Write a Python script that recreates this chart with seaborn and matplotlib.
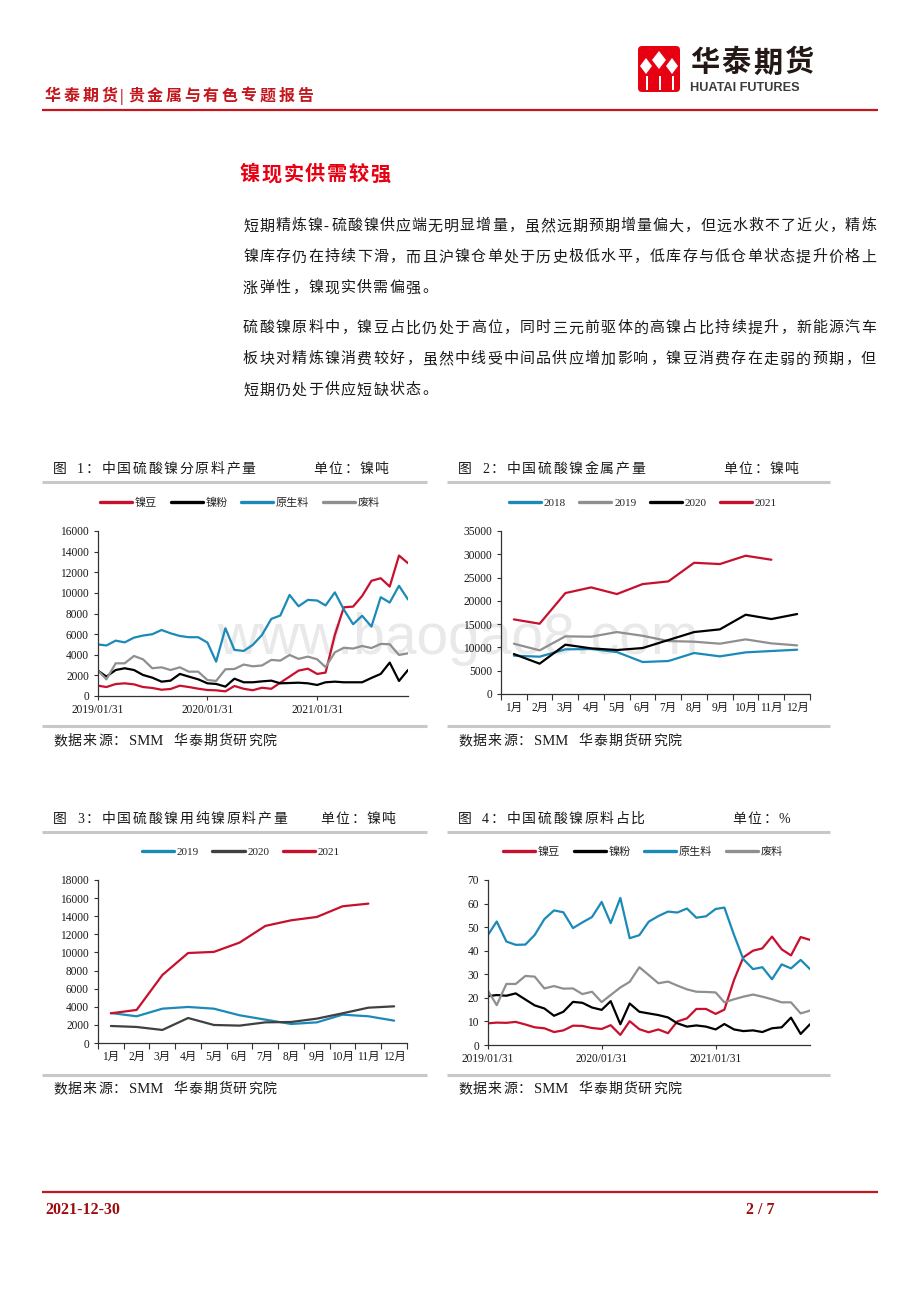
import matplotlib
matplotlib.use("Agg")
import matplotlib.pyplot as plt
from matplotlib.lines import Line2D
from matplotlib.patches import FancyBboxPatch, Polygon, Rectangle
import numpy as np
import pandas as pd
import seaborn as sns

sns.set_theme(style="white")
plt.rcParams["font.family"] = ["Liberation Serif", "Noto Sans CJK SC"]
plt.rcParams["axes.unicode_minus"] = False

# ---------------------------------------------------------------- data
dates = pd.date_range("2019-01-31", periods=35, freq=pd.offsets.MonthEnd())
date_ticks = pd.to_datetime(["2019-01-31", "2020-01-31", "2021-01-31"])
date_tick_labels = ["2019/01/31", "2020/01/31", "2021/01/31"]
months = ["1月", "2月", "3月", "4月", "5月", "6月", "7月", "8月", "9月", "10月", "11月", "12月"]
raw_names = ["镍豆", "镍粉", "原生料", "废料"]

# fig 1: output by raw material (t Ni)
nb_t = [1000, 870, 1160, 1230, 1130, 870, 780, 610, 680, 1000, 870, 710, 580, 550, 450, 970, 700,
        560, 800, 700, 1290, 1880, 2460, 2650, 2140, 2270, 5920, 8600, 8670, 9700, 11170, 11420,
        10610, 13620, 12880]
np_t = [2460, 1880, 2520, 2690, 2520, 2040, 1780, 1390, 1490, 2140, 1880, 1620, 1230, 1170, 910,
        1680, 1330, 1330, 1420, 1490, 1230, 1260, 1290, 1230, 1070, 1330, 1390, 1330, 1330, 1330,
        1750, 2140, 3240, 1460, 2520]
raw_t = [5000, 4900, 5370, 5200, 5660, 5860, 5990, 6400, 6080, 5820, 5700, 5700, 5180, 3330, 6570,
         4470, 4370, 4950, 5920, 7480, 7800, 9800, 8700, 9320, 9260, 8780, 10050, 8380, 6960, 7780,
         6730, 9580, 9060, 10690, 9360]
scrap_t = [2460, 1620, 3170, 3170, 3880, 3560, 2690, 2780, 2520, 2780, 2360, 2360, 1550, 1460, 2590,
           2620, 3050, 2880, 2960, 3500, 3430, 3980, 3600, 3820, 3560, 2800, 4230, 4680, 4600, 4850,
           4650, 5050, 5020, 3980, 4140]

# fig 2: nickel sulphate metal output by year
y2018 = [8230, 8010, 9590, 9660, 9010, 6870, 7080, 8800, 8080, 8940, 9230, 9510]
y2019 = [10800, 9370, 12380, 12300, 13300, 12500, 11370, 11230, 10800, 11730, 10870, 10440]
y2020 = [8580, 6510, 10590, 9800, 9440, 9870, 11590, 13300, 13880, 17020, 16090, 17170]
y2021 = [16020, 15090, 21670, 22890, 21460, 23600, 24180, 28180, 27900, 29690, 28830]

# fig 3: pure nickel feed
p2019 = [3310, 2950, 3790, 3980, 3790, 3060, 2580, 2100, 2280, 3130, 2950, 2470]
p2020 = [1880, 1770, 1440, 2760, 1990, 1920, 2280, 2320, 2690, 3280, 3900, 4050]
p2021 = [3280, 3650, 7510, 9940, 10060, 11090, 12930, 13550, 13920, 15100, 15390]

# fig 4: share (%)
nb_pct = [9.2, 9.5, 9.4, 9.8, 8.7, 7.5, 7.1, 5.5, 6.2, 8.2, 8.1, 7.2, 6.8, 8.4, 4.3, 10.1, 6.7, 5.4,
          6.6, 5.0, 10.0, 11.3, 15.3, 15.3, 13.2, 15.0, 27.6, 37.2, 40.0, 41.0, 46.0, 40.6, 38.0,
          45.8, 44.6]
np_pct = [20.7, 21.2, 20.9, 21.9, 19.3, 16.8, 15.5, 12.4, 14.1, 18.3, 17.9, 15.9, 14.9, 18.6, 8.8,
          17.6, 14.1, 13.4, 12.7, 11.7, 9.2, 7.8, 8.3, 7.8, 6.6, 8.9, 6.6, 5.9, 6.2, 5.5, 7.1, 7.5,
          11.6, 4.7, 8.8]
raw_pct = [46.7, 52.4, 43.9, 42.5, 42.6, 46.7, 53.4, 57.1, 56.3, 49.6, 52.0, 54.3, 60.7, 51.7, 62.4,
           45.3, 46.6, 52.3, 54.7, 56.6, 56.2, 57.9, 54.0, 54.6, 57.7, 58.3, 46.7, 36.4, 32.2, 33.0,
           27.9, 34.2, 32.5, 36.1, 32.2]
scrap_pct = [23.0, 16.9, 25.9, 25.9, 29.3, 29.0, 24.0, 25.0, 23.9, 24.0, 21.6, 22.6, 18.2, 21.2,
             24.4, 26.8, 33.0, 29.7, 26.2, 26.9, 25.2, 23.6, 22.6, 22.5, 22.3, 18.1, 19.4, 20.5,
             21.4, 20.5, 19.4, 18.1, 18.1, 13.4, 14.6]

para1 = ["短期精炼镍-硫酸镍供应端无明显增量，虽然远期预期增量偏大，但远水救不了近火，精炼",
         "镍库存仍在持续下滑，而且沪镍仓单处于历史极低水平，低库存与低仓单状态提升价格上",
         "涨弹性，镍现实供需偏强。"]
para2 = ["硫酸镍原料中，镍豆占比仍处于高位，同时三元前驱体的高镍占比持续提升，新能源汽车",
         "板块对精炼镍消费较好，虽然中线受中间品供应增加影响，镍豆消费存在走弱的预期，但",
         "短期仍处于供应短缺状态。"]

RED = "#C8102E"
BLUE = "#1B8AB8"
GRAY = "#8F8F8F"
BLACK = "#000000"

W, H = 920, 1302
fig = plt.figure(figsize=(W / 100, H / 100), dpi=100)


def fx(x):
    return x / W


def fy(y):
    return 1 - y / H


def hline(y, x0, x1, color, lw):
    fig.add_artist(Line2D([fx(x0), fx(x1)], [fy(y), fy(y)], transform=fig.transFigure,
                          color=color, lw=lw, solid_capstyle="butt"))


def spaced(x, y, s, pitch, size, color="#1a1a1a", weight="normal", half=0.5):
    # y is the visual middle of the glyphs, pixels
    base = y + 0.36 * size * 100 / 72
    for ch in s:
        if ch != " ":
            fig.text(fx(x), fy(base), ch, fontsize=size, color=color, weight=weight,
                     ha="left", va="baseline")
        x += pitch * (1.0 if ord(ch) > 0x2000 else half)


def justified(x0, x1, y, s, size, **kw):
    em = size * 100 / 72
    units = sum(1.0 if ord(c) > 0x2000 else 0.5 for c in s[:-1])
    spaced(x0, y, s, (x1 - x0 - em) / units, size, **kw)


def add_ax(l, t, r, b):
    ax = fig.add_axes([fx(l), fy(b), (r - l) / W, (b - t) / H])
    ax.set_facecolor("none")
    return ax


def style(ax, ymax, ystep):
    sns.despine(ax=ax)
    for s in ("left", "bottom"):
        ax.spines[s].set_color("#333333")
        ax.spines[s].set_linewidth(0.9)
    ax.set_ylim(0, ymax)
    ax.set_yticks(np.arange(0, ymax + 1, ystep))
    ax.tick_params(axis="y", left=True, length=3, width=0.8, color="#333333",
                   labelsize=8.3, pad=3.5, labelcolor="#1a1a1a")
    ax.tick_params(axis="x", bottom=True, length=3, width=0.8, color="#333333",
                   labelsize=8.3, pad=3, labelcolor="#1a1a1a")
    ax.set_xlabel("")
    ax.set_ylabel("")
    ax.grid(False)


def draw_lines(ax, df, order, colors, lw=1.6):
    long = df.melt(id_vars="x", var_name="series", value_name="value").dropna()
    sns.lineplot(data=long, x="x", y="value", hue="series", hue_order=order,
                 palette=dict(zip(order, colors)), linewidth=lw, ax=ax, errorbar=None,
                 sort=False)


def legend(ax, cx, cy):
    handles, labels = ax.get_legend_handles_labels()
    for h in handles:
        h.set_linewidth(2.4)
    ax.legend(handles, labels, loc="center", bbox_to_anchor=(fx(cx), fy(cy)),
              bbox_transform=fig.transFigure, ncol=len(labels), frameon=False,
              fontsize=8, handlelength=2.9, handletextpad=0.25, columnspacing=1.2,
              borderpad=0)


def frame(x0, x1, ytop, ybot, num, title, unit_x, unit, ysrc):
    spaced(x0 + 11, ytop - 14, f"图 {num}：{title}", 15.6, 10, half=0.55)
    spaced(unit_x, ytop - 14, unit, 15.6, 10)
    hline(ytop, x0, x1, "#C8C8C8", 2.2)
    hline(ybot, x0, x1, "#C8C8C8", 2.2)
    spaced(x0 + 11, ysrc, "数据来源：", 15.0, 10)
    fig.text(fx(x0 + 87), fy(ysrc + 5), "SMM", fontsize=10.5, color="#1a1a1a",
             ha="left", va="baseline")
    spaced(x0 + 131, ysrc, "华泰期货研究院", 15.0, 10)


# ---------------------------------------------------------------- page header
spaced(45, 95, "华泰期货|贵金属与有色专题报告", 18.8, 11.5, color="#C4161C", weight="bold",
       half=0.4)
hline(110, 42, 878, "#C4161C", 1.6)

logo = fig.add_axes([fx(637), fy(93), 44 / W, 48 / H])
logo.set_xlim(0, 44)
logo.set_ylim(48, 0)
logo.axis("off")
logo.add_patch(FancyBboxPatch((1, 1), 42, 46, boxstyle="round,pad=0,rounding_size=4",
                              fc="#E60012", ec="none"))
for cx, cy, hw, hh in [(22, 15, 7, 9), (9, 21, 6, 8), (35, 21, 6, 8)]:
    logo.add_patch(Polygon([(cx, cy - hh), (cx + hw, cy), (cx, cy + hh), (cx - hw, cy)],
                           closed=True, fc="white", ec="none"))
for bx in (8.5, 21.5, 34.5):
    logo.add_patch(Rectangle((bx, 31), 2, 14, fc="white", ec="none"))
spaced(690, 61, "华泰期货", 31.5, 21, color="#231815", weight="bold")
fig.text(fx(690), fy(91), "HUATAI FUTURES", fontsize=9.2, weight="bold", color="#3C3C3C",
         family="Liberation Sans", ha="left", va="baseline")

spaced(240, 173, "镍现实供需较强", 21.7, 14.5, color="#E60012", weight="bold")

for i, (line, y) in enumerate(zip(para1, (225, 256, 287))):
    if i < 2:
        justified(243, 876, y, line, 10.8)
    else:
        spaced(243, y, line, 16.27, 10.8)
for i, (line, y) in enumerate(zip(para2, (327, 358, 389))):
    if i < 2:
        justified(243, 876, y, line, 10.8)
    else:
        spaced(243, y, line, 16.27, 10.8)

# watermark
fig.text(fx(217), fy(654), "www.baogao8.com", fontsize=41, color="#E9E9E9",
         family="Liberation Sans", ha="left", va="baseline", zorder=-1)

# ---------------------------------------------------------------- fig 1
frame(42, 427, 482, 726, 1, "中国硫酸镍分原料产量", 313, "单位：镍吨", 740)
ax1 = add_ax(98, 531, 408, 696)
df1 = pd.DataFrame({"x": dates, raw_names[0]: nb_t, raw_names[1]: np_t,
                    raw_names[2]: raw_t, raw_names[3]: scrap_t})
draw_lines(ax1, df1, raw_names, [RED, BLACK, BLUE, GRAY])
style(ax1, 16000, 2000)
ax1.set_xlim(dates[0], dates[-1])
ax1.set_xticks(date_ticks, date_tick_labels)
legend(ax1, 240, 503)

# ---------------------------------------------------------------- fig 2
frame(447, 830, 482, 726, 2, "中国硫酸镍金属产量", 723, "单位：镍吨", 740)
ax2 = add_ax(501, 531, 810, 694)
df2 = pd.DataFrame({"x": range(12), "2018": y2018, "2019": y2019, "2020": y2020,
                    "2021": y2021 + [np.nan]})
draw_lines(ax2, df2, ["2018", "2019", "2020", "2021"], [BLUE, GRAY, BLACK, RED])
style(ax2, 35000, 5000)
ax2.set_xlim(-0.5, 11.5)
ax2.set_xticks(range(12), months)
ax2.set_xticks(np.arange(-0.5, 12, 1), minor=True)
ax2.tick_params(axis="x", which="major", length=0, pad=6)
ax2.tick_params(axis="x", which="minor", bottom=True, length=4, width=0.8, color="#333333")
legend(ax2, 643, 503)

# ---------------------------------------------------------------- fig 3
frame(42, 427, 832, 1075, 3, "中国硫酸镍用纯镍原料产量", 320, "单位：镍吨", 1088)
ax3 = add_ax(98, 880, 407, 1043)
df3 = pd.DataFrame({"x": range(12), "2019": p2019, "2020": p2020, "2021": p2021 + [np.nan]})
draw_lines(ax3, df3, ["2019", "2020", "2021"], [BLUE, "#404040", RED])
style(ax3, 18000, 2000)
ax3.set_xlim(-0.5, 11.5)
ax3.set_xticks(range(12), months)
ax3.set_xticks(np.arange(-0.5, 12, 1), minor=True)
ax3.tick_params(axis="x", which="major", length=0, pad=6)
ax3.tick_params(axis="x", which="minor", bottom=True, length=4, width=0.8, color="#333333")
legend(ax3, 241, 852)

# ---------------------------------------------------------------- fig 4
frame(447, 830, 832, 1075, 4, "中国硫酸镍原料占比", 732, "单位：%", 1088)
ax4 = add_ax(488, 880, 810, 1045)
df4 = pd.DataFrame({"x": dates, raw_names[0]: nb_pct, raw_names[1]: np_pct,
                    raw_names[2]: raw_pct, raw_names[3]: scrap_pct})
draw_lines(ax4, df4, raw_names, [RED, BLACK, BLUE, GRAY])
style(ax4, 70, 10)
ax4.set_xlim(dates[0], dates[-1])
ax4.set_xticks(date_ticks, date_tick_labels)
legend(ax4, 643, 852)

# ---------------------------------------------------------------- footer
hline(1192, 42, 878, "#C4161C", 1.6)
fig.text(fx(45), fy(1214), "2021-12-30", fontsize=11.5, weight="bold", color="#9E0B0F",
         ha="left", va="baseline")
fig.text(fx(775), fy(1214), "2 / 7", fontsize=11.5, weight="bold", color="#9E0B0F",
         ha="right", va="baseline")

fig.savefig("out.png", dpi=100)
